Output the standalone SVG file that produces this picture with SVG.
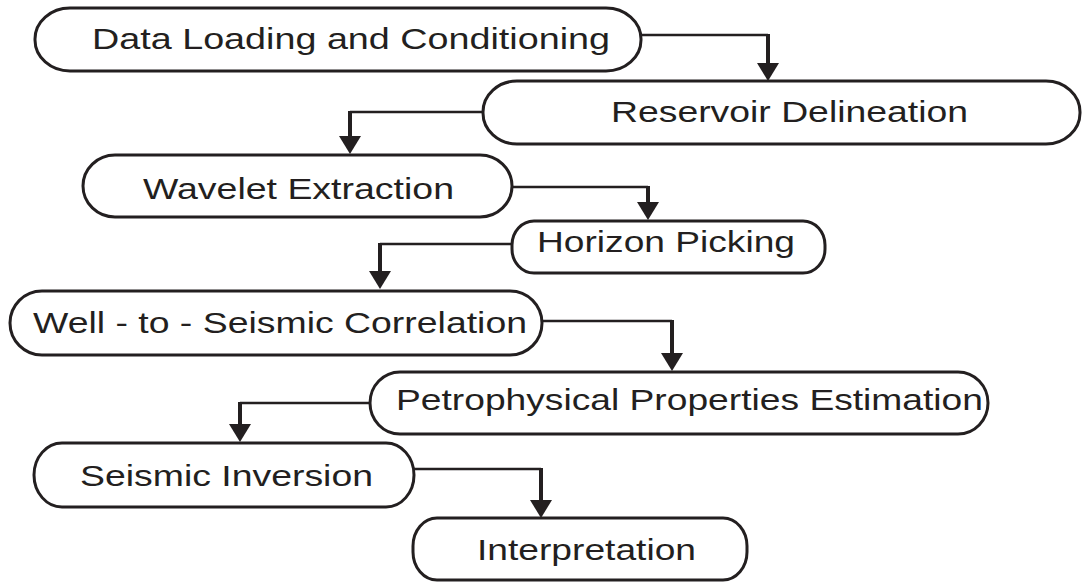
<svg xmlns="http://www.w3.org/2000/svg" width="1083" height="582" viewBox="0 0 1083 582">
<style>
.node rect{fill:#fff;stroke:#231f20;stroke-width:3}
.node text{font-family:"Liberation Sans",Arial,sans-serif;font-size:29px;fill:#231f20}
.conn path{fill:none;stroke:#231f20;stroke-linejoin:miter}
.conn .h{stroke-width:2.5}
.conn .v{stroke-width:4;marker-end:url(#ah)}
</style>
<defs>
<marker id="ah" viewBox="0 0 18 22" markerWidth="18" markerHeight="22" markerUnits="userSpaceOnUse" refX="6" refY="11" orient="auto">
<path d="M0,0 L18,11 L0,22 Z" fill="#231f20"/>
</marker>
</defs>
<rect width="1083" height="582" fill="#fff"/>
<g class="conn">
<path class="h" d="M641,35 H768"/><path class="v" d="M768,34 V69"/>
<path class="h" d="M483,112 H350"/><path class="v" d="M350,111 V142"/>
<path class="h" d="M512,187 H648"/><path class="v" d="M648,186 V208"/>
<path class="h" d="M512,244 H380"/><path class="v" d="M380,243 V277"/>
<path class="h" d="M542,321 H672"/><path class="v" d="M672,320 V359"/>
<path class="h" d="M370,403 H240"/><path class="v" d="M240,402 V430"/>
<path class="h" d="M414,469 H541"/><path class="v" d="M541,468 V506"/>
</g>
<g id="n1" class="node"><rect x="35" y="8" width="606" height="63" rx="35" ry="31"/><text x="92" y="49" textLength="518" lengthAdjust="spacingAndGlyphs">Data Loading and Conditioning</text></g>
<g id="n2" class="node"><rect x="483" y="81" width="597" height="63" rx="34" ry="31"/><text x="611" y="122" textLength="357" lengthAdjust="spacingAndGlyphs">Reservoir Delineation</text></g>
<g id="n3" class="node"><rect x="83" y="155" width="429" height="62" rx="32" ry="31"/><text x="143" y="199" textLength="311" lengthAdjust="spacingAndGlyphs">Wavelet Extraction</text></g>
<g id="n4" class="node"><rect x="512" y="221" width="313" height="52" rx="22" ry="24"/><text x="537" y="252" textLength="258" lengthAdjust="spacingAndGlyphs">Horizon Picking</text></g>
<g id="n5" class="node"><rect x="10" y="291" width="532" height="64" rx="32" ry="32"/><text x="33" y="333" textLength="494" lengthAdjust="spacingAndGlyphs">Well - to - Seismic Correlation</text></g>
<g id="n6" class="node"><rect x="370" y="372" width="618" height="62" rx="30" ry="31"/><text x="396" y="410" textLength="587" lengthAdjust="spacingAndGlyphs">Petrophysical Properties Estimation</text></g>
<g id="n7" class="node"><rect x="34" y="443" width="380" height="64" rx="28" ry="32"/><text x="80" y="486" textLength="293" lengthAdjust="spacingAndGlyphs">Seismic Inversion</text></g>
<g id="n8" class="node"><rect x="413" y="518" width="334" height="62" rx="24" ry="28"/><text x="477" y="560" textLength="219" lengthAdjust="spacingAndGlyphs">Interpretation</text></g>
</svg>
